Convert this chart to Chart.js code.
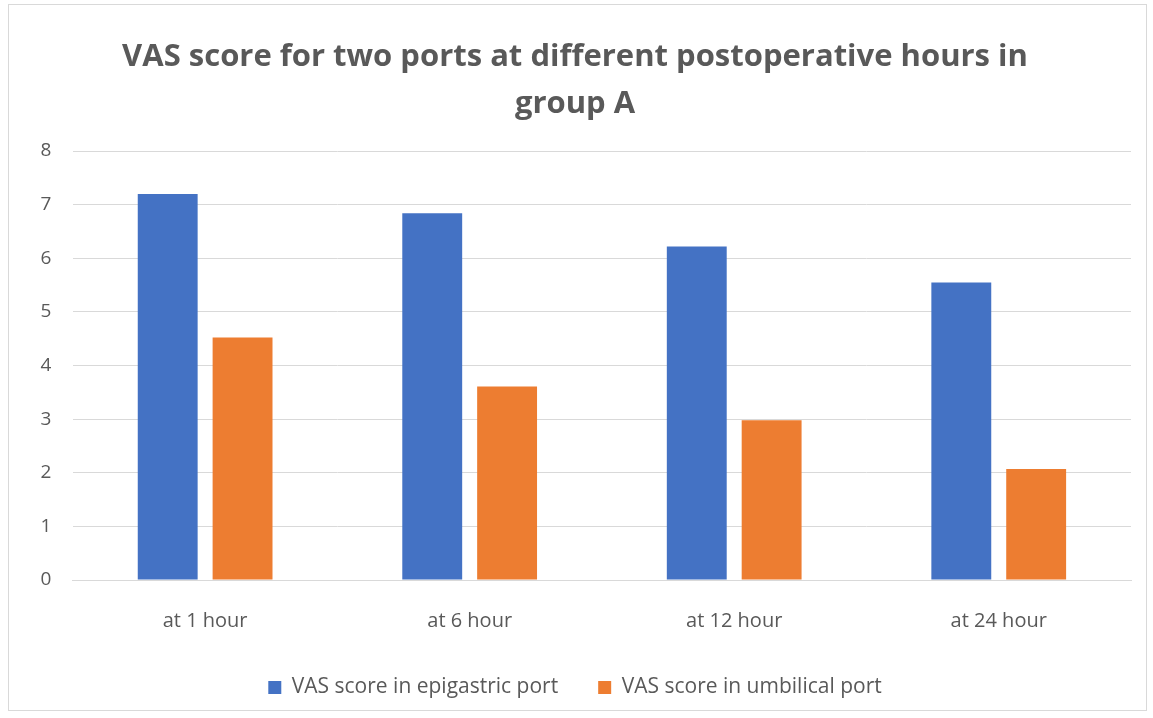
<!DOCTYPE html>
<html>
<head>
<meta charset="utf-8">
<script src="https://cdn.jsdelivr.net/npm/chart.js@4"></script>
<style>
  html, body { margin: 0; padding: 0; background: #fff; }
  #frame {
    position: absolute; left: 8px; top: 4px; width: 1139px; height: 707px;
    border: 1px solid #d9d9d9; box-sizing: border-box;
  }
  #chart { display: block; }
</style>
</head>
<body>
<div id="frame"><canvas id="chart" width="1137" height="705"></canvas></div>
<script>
const categories = ["at 1 hour", "at 6 hour", "at 12 hour", "at 24 hour"];
const epigastric = [7.2, 6.84, 6.22, 5.55];
const umbilical = [4.52, 3.61, 2.98, 2.07];
const yTicks = [0, 1, 2, 3, 4, 5, 6, 7, 8];

const textGrey = "#595959";

const chart = new Chart(document.getElementById("chart"), {
  type: "bar",
  data: {
    labels: categories,
    datasets: [
      {
        label: "VAS score in epigastric port",
        data: epigastric,
        backgroundColor: "#4472c4",
      },
      {
        label: "VAS score in umbilical port",
        data: umbilical,
        backgroundColor: "#ed7d31",
      },
    ],
  },
  options: {
    responsive: false,
    animation: false,
    categoryPercentage: 0.566,
    barPercentage: 0.8,
    layout: { padding: { left: 10, right: 15, top: 10, bottom: 2 } },
    plugins: {
      title: {
        display: true,
        text: ["VAS score for two ports at different postoperative hours in", "group A"],
        color: textGrey,
        font: { family: "Open Sans", size: 31, weight: "bold", lineHeight: 1.5 },
        padding: { top: 19, bottom: 24 },
      },
      legend: {
        position: "bottom",
        labels: {
          color: textGrey,
          font: { family: "Open Sans", size: 21 },
          boxWidth: 13,
          boxHeight: 13,
          padding: 40,
        },
      },
      tooltip: { enabled: false },
    },
    scales: {
      x: {
        grid: { display: false },
        border: { color: "#d9d9d9", width: 1 },
        ticks: { color: textGrey, font: { family: "Open Sans", size: 20 }, padding: 21 },
        // keep the labels close under the axis, move the plot down toward the legend
        afterFit: (axis) => {
          axis.height -= 17;
        },
      },
      y: {
        min: 0,
        max: 8,
        afterBuildTicks: (axis) => {
          axis.ticks = yTicks.map((v) => ({ value: v }));
        },
        grid: { color: "#d9d9d9", drawTicks: false },
        border: { display: false },
        ticks: { color: textGrey, font: { family: "Open Sans", size: 19 }, padding: 21.5 },
      },
    },
  },
});
</script>
</body>
</html>
